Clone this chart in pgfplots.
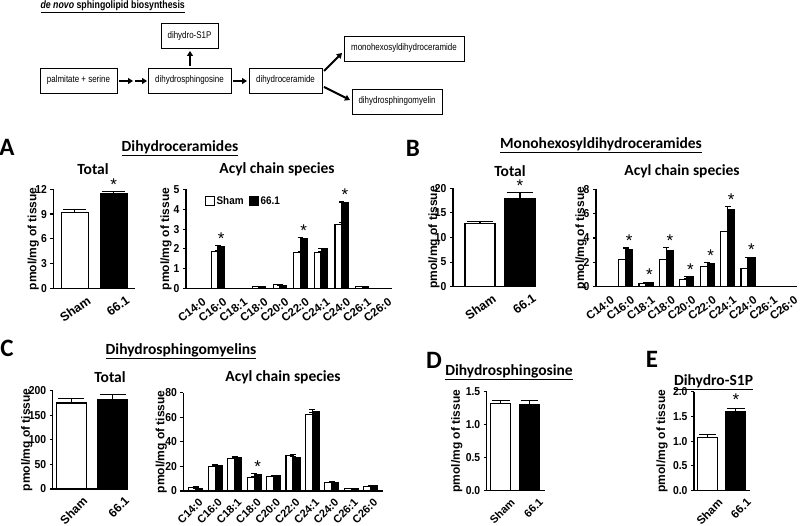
\documentclass[border=0pt]{standalone}
\usepackage{fontspec}
\setmainfont{Liberation Sans}
\newfontfamily\calfont{Carlito}
\newfontfamily\narrowfont[FakeStretch=0.82]{Liberation Sans}
\newfontfamily\tickfont[FakeStretch=0.9]{Liberation Sans}
\usepackage{pgfplots}
\pgfplotsset{compat=1.18}
\usetikzlibrary{arrows.meta}

\newcommand\ftick{\tickfont\fontsize{11.5}{11.5}\selectfont\bfseries}
\newcommand\fx[1]{\fontsize{#1}{#1}\selectfont\bfseries}
\newcommand\flab{\fontsize{12}{12}\selectfont\bfseries}
\newcommand\fttl{\calfont\fontsize{15.5}{15.5}\selectfont\bfseries}
\newcommand\flet{\calfont\fontsize{25}{25}\selectfont\bfseries}
\newcommand\fstar{\fontsize{17}{17}\selectfont}
\newcommand\fboxt{\narrowfont\fontsize{9.7}{9.7}\selectfont}

\tikzset{
  box/.style={draw, line width=0.9pt, inner sep=0pt, minimum height=25pt, font=\fboxt},
  arr/.style={line width=2pt, -{Triangle[length=5pt,width=6pt]}},
}
\pgfplotsset{
  prism/.style={
    scale only axis, axis lines=left, axis line style={-, line width=1.2pt},
    tick align=outside, major tick length=3pt,
    ytick style={line width=1.1pt, black}, xtick style={draw=none},
    ymin=0, clip=false,
    tick label style={font=\ftick},
    /pgf/number format/assume math mode=true,
  },
  % xshift, yshift, rotation, font size
  xlab/.style n args={4}{xticklabel style={xshift=#1, yshift=#2, rotate=#3, anchor=north east, inner sep=0.5pt, font=\fx{#4}}},
  ylab/.style={every axis y label/.style={at={(rel axis cs:0,0.5)}, xshift=#1, rotate=90, anchor=center, font=\flab}},
  total/.style={prism, xtick={0,1}, xticklabels={Sham,66.1}},
  acyl/.style={prism, xtick={0,...,9},
    xticklabels={C14:0,C16:0,C18:1,C18:0,C20:0,C22:0,C24:1,C24:0,C26:1,C26:0}},
  sham/.style 2 args={ybar, bar width=#1, bar shift=#2, fill=white, draw=black, line width=1.1pt,
    error bars/y dir=plus, error bars/y explicit,
    error bars/error bar style={line width=1.1pt},
    error bars/error mark options={rotate=90, line width=1.1pt, mark size=#1/2.3}},
  tg/.style 2 args={sham={#1}{#2}, fill=black},
  star/.style={draw=none, nodes near coords={*},
    every node near coord/.style={anchor=base, inner sep=0pt, font=\fstar, xshift=#1}},
}

\begin{document}
\begin{tikzpicture}
\useasboundingbox (0pt,0pt) rectangle (800pt,526pt);

% pathway scheme
\node[anchor=west, font={\narrowfont\fontsize{10.7}{10.7}\selectfont\bfseries}] at (37pt,519.5pt) {\underline{\textit{de novo} sphingolipid biosynthesis}};
\node[box, minimum width=77pt] at (78.5pt,445.5pt) {palmitate + serine};
\node[box, minimum width=83pt] at (189.5pt,445.5pt) {dihydrosphingosine};
\node[box, minimum width=73pt] at (285.5pt,445.5pt) {dihydroceramide};
\node[box, minimum width=57pt] at (189.5pt,490pt) {dihydro-S1P};
\node[box, minimum width=120pt] at (404pt,477.5pt) {monohexosyldihydroceramide};
\node[box, minimum width=90pt] at (397pt,424.5pt) {dihydrosphingomyelin};
\draw[arr] (119pt,445pt) -- (133pt,445pt);
\draw[arr] (135pt,445pt) -- (147pt,445pt);
\draw[arr] (233pt,445pt) -- (247pt,445pt);
\draw[arr] (190pt,460pt) -- (190pt,475pt);
\draw[arr] (324pt,455pt) -- (342pt,473pt);
\draw[arr] (324pt,439pt) -- (350pt,426pt);

% panel headings
\node[font=\flet] at (7pt,379pt) {A};
\node[font=\fttl] at (180pt,378pt) {\underline{Dihydroceramides}};
\node[font=\fttl] at (93pt,357pt) {Total};
\node[font=\fttl] at (277pt,357pt) {Acyl chain species};
\node[font=\flet] at (413pt,378pt) {B};
\node[font=\fttl] at (601pt,381pt) {\underline{Monohexosyldihydroceramides}};
\node[font=\fttl] at (510pt,355pt) {Total};
\node[font=\fttl] at (682pt,355pt) {Acyl chain species};
\node[font=\flet] at (7pt,178pt) {C};
\node[font=\fttl] at (181pt,175pt) {\underline{Dihydrosphingomyelins}};
\node[font=\fttl] at (110pt,149pt) {Total};
\node[font=\fttl] at (283pt,149pt) {Acyl chain species};
\node[font=\flet] at (434pt,166pt) {D};
\node[font=\fttl] at (509pt,154pt) {\underline{Dihydrosphingosine}};
\node[font=\flet] at (652pt,167pt) {E};
\node[font=\fttl] at (713.5pt,144pt) {\underline{Dihydro-S1P}};

% A total
\begin{axis}[total, xlab={12pt}{-3pt}{35}{12.5}, at={(53.3pt,237.7pt)}, anchor=south west, width=81.7pt, height=99pt,
  xmin=-0.55, xmax=1.55, ymax=12, ytick={0,3,...,12},
  ylabel={pmol/mg of tissue}, ylab=-20pt]
\addplot[sham={27pt}{0pt}] coordinates {(0,9.17) +- (0,0.43)};
\addplot[tg={27pt}{0pt}] coordinates {(1,11.45) +- (0,0.3)};
\addplot[star=0pt] coordinates {(1,11.85)};
\end{axis}

% A acyl
\begin{axis}[acyl, xlab={5pt}{-5pt}{37}{11.5}, at={(186pt,237.5pt)}, anchor=south west, width=206pt, height=99pt,
  xmin=-0.54, xmax=9.44, ymax=5, ytick={0,...,5},
  ylabel={pmol/mg of tissue}, ylab=-20pt,
  legend style={draw=none, fill=none, at={(0.09,0.884)}, anchor=west, legend columns=2,
    font=\tickfont\fontsize{11}{11}\selectfont\bfseries, inner sep=0pt,
    /tikz/every even column/.append style={column sep=3pt}},
  legend image code/.code={\draw[#1, line width=0.9pt] (0pt,-4.5pt) rectangle (9pt,4.5pt);}]
\addplot[sham={6.5pt}{-3.4pt}] coordinates {
  (0,0) +- (0,0) (1,1.88) +- (0,0.03) (2,0) +- (0,0) (3,0.1) +- (0,0.02)
  (4,0.18) +- (0,0.02) (5,1.8) +- (0,0.05) (6,1.8) +- (0,0.06) (7,3.22) +- (0,0.12)
  (8,0.08) +- (0,0.01) (9,0) +- (0,0)};
\addplot[tg={6.5pt}{3.4pt}] coordinates {
  (0,0) +- (0,0) (1,2.1) +- (0,0.05) (2,0) +- (0,0) (3,0.1) +- (0,0.02)
  (4,0.15) +- (0,0.02) (5,2.5) +- (0,0.06) (6,2.0) +- (0,0.03) (7,4.33) +- (0,0.04)
  (8,0.1) +- (0,0.01) (9,0) +- (0,0)};
\legend{Sham,66.1}
\addplot[star=3.4pt] coordinates {(1,2.2) (5,2.61) (7,4.42)};
\end{axis}

% B total
\begin{axis}[total, xlab={12pt}{-3pt}{35}{12.5}, at={(453pt,239.3pt)}, anchor=south west, width=82pt, height=98.4pt,
  xmin=-0.675, xmax=1.375, ymax=20, ytick={0,5,...,20},
  ylabel={pmol/mg of tissue}, ylab=-19pt]
\addplot[sham={30pt}{0pt}] coordinates {(0,12.9) +- (0,0.4)};
\addplot[tg={30pt}{0pt}] coordinates {(1,17.9) +- (0,1.2)};
\addplot[star=0pt] coordinates {(1,19.4)};
\end{axis}

% B acyl
\begin{axis}[acyl, xlab={5pt}{-5pt}{37}{11.5}, at={(596pt,239.3pt)}, anchor=south west, width=201pt, height=97.4pt,
  xmin=-0.45, xmax=9.4, ymax=8, ytick={0,2,...,8},
  ylabel={pmol/mg of tissue}, ylab=-15pt]
\addplot[sham={7pt}{-3.5pt}] coordinates {
  (0,0) +- (0,0) (1,2.22) +- (0,0.04) (2,0.26) +- (0,0.02) (3,2.2) +- (0,0.04)
  (4,0.6) +- (0,0.03) (5,1.65) +- (0,0.04) (6,4.52) +- (0,0.05) (7,1.48) +- (0,0.04)
  (8,0.05) +- (0,0) (9,0) +- (0,0)};
\addplot[tg={7pt}{3.5pt}] coordinates {
  (0,0) +- (0,0) (1,3.08) +- (0,0.1) (2,0.35) +- (0,0.03) (3,3.0) +- (0,0.2)
  (4,0.8) +- (0,0.04) (5,1.92) +- (0,0.05) (6,6.3) +- (0,0.28) (7,2.38) +- (0,0.05)
  (8,0) +- (0,0) (9,0) +- (0,0)};
\addplot[star=3.5pt] coordinates {(1,3.28) (2,0.48) (3,3.3) (4,0.94) (5,2.07) (6,6.68) (7,2.53)};
\end{axis}

% C total
\begin{axis}[total, xlab={11pt}{-3pt}{45}{12}, at={(52.7pt,37pt)}, anchor=south west, width=75.3pt, height=98.3pt,
  xmin=-0.44, xmax=1.36, ymax=200, ytick={0,50,...,200},
  ylabel={pmol/mg of tissue}, ylab=-26pt]
\addplot[sham={30pt}{0pt}] coordinates {(0,175) +- (0,9)};
\addplot[tg={30pt}{0pt}] coordinates {(1,182) +- (0,10)};
\end{axis}

% C acyl
\begin{axis}[acyl, xlab={2pt}{-3pt}{45}{11}, at={(183.3pt,35pt)}, anchor=south west, width=200pt, height=98.3pt,
  xmin=-0.65, xmax=9.65, ymax=80, ytick={0,20,...,80},
  ylabel={pmol/mg of tissue}, ylab=-22pt]
\addplot[sham={7pt}{-3.5pt}] coordinates {
  (0,3.0) +- (0,0.3) (1,20.0) +- (0,0.5) (2,26.8) +- (0,0.5) (3,11.1) +- (0,0.5)
  (4,11.6) +- (0,0.4) (5,29.2) +- (0,0.6) (6,62.6) +- (0,1.6) (7,6.9) +- (0,0.3)
  (8,1.9) +- (0,0.2) (9,3.4) +- (0,0.3)};
\addplot[tg={7pt}{3.5pt}] coordinates {
  (0,2.2) +- (0,0.2) (1,21.0) +- (0,0.5) (2,27.2) +- (0,0.5) (3,13.5) +- (0,0.6)
  (4,12.4) +- (0,0.4) (5,27.3) +- (0,0.5) (6,64.6) +- (0,1.9) (7,7.1) +- (0,0.3)
  (8,1.9) +- (0,0.2) (9,4.3) +- (0,0.4)};
\addplot[star=3.5pt] coordinates {(3,15.2)};
\end{axis}

% D
\begin{axis}[total, xlab={9pt}{-3pt}{45}{11}, at={(486.7pt,35.3pt)}, anchor=south west, width=58.3pt, height=99pt,
  xmin=-0.5, xmax=1.55, ymax=1.5, ytick={0,0.5,...,1.5},
  yticklabel style={/pgf/number format/.cd, fixed, fixed zerofill, precision=1},
  ylabel={pmol/mg of tissue}, ylab=-30pt]
\addplot[sham={20pt}{0pt}] coordinates {(0,1.32) +- (0,0.04)};
\addplot[tg={20pt}{0pt}] coordinates {(1,1.30) +- (0,0.06)};
\end{axis}

% E
\begin{axis}[total, xlab={10pt}{-3pt}{45}{11.5}, at={(694pt,35.3pt)}, anchor=south west, width=56pt, height=99pt,
  xmin=-0.48, xmax=1.5, ymax=2, ytick={0,0.5,...,2},
  yticklabel style={/pgf/number format/.cd, fixed, fixed zerofill, precision=1},
  ylabel={pmol/mg of tissue}, ylab=-32pt]
\addplot[sham={20pt}{0pt}] coordinates {(0,1.07) +- (0,0.06)};
\addplot[tg={20pt}{0pt}] coordinates {(1,1.60) +- (0,0.06)};
\addplot[star=0pt] coordinates {(1,1.72)};
\end{axis}
\end{tikzpicture}
\end{document}
